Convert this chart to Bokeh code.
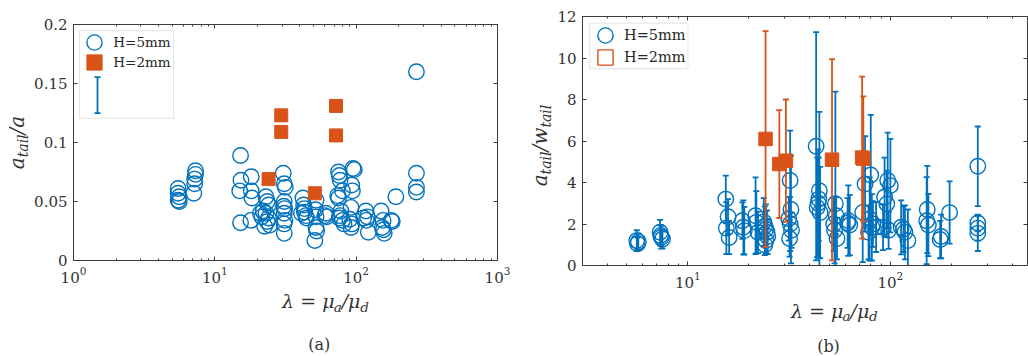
from math import pi

import numpy as np
from bokeh.embed import file_html
from bokeh.layouts import column, row
from bokeh.models import (BoxAnnotation, ColumnDataSource, CustomJSTickFormatter,
                          FixedTicker, Label, Legend, LegendItem, LinearAxis, LogAxis,
                          LogTickFormatter, Range1d, TeeHead, Whisker)
from bokeh.plotting import figure
from bokeh.resources import INLINE

BLUE = "#0072BD"
ORANGE = "#D95319"
AXIS_COLOR = "#3c3c3c"
TEXT_COLOR = "#333333"
FONT = "DejaVu Serif"

# ---------------- panel (a): a_tail / a versus viscosity ratio ----------------
lam_a_5mm = [
    5.5, 5.5, 5.6, 5.5, 5.6,
    7.3, 7.3, 7.2, 7.2, 7.1,
    15.2, 15.3, 15.0, 15.2,
    18.1, 18.1, 18.3, 18.0,
    21.0, 21.5, 22.0, 23.0, 23.5, 24.0, 23.0, 24.0, 23.5, 24.5, 22.5,
    30.5, 31.0, 31.5, 31.0, 30.8, 31.2, 31.0, 31.3, 30.9, 31.0,
    42.0, 42.5, 43.0, 43.0, 44.0, 44.5, 41.0,
    52.0, 51.5, 52.0, 52.0, 52.5, 51.0,
    61.0, 62.0, 60.0,
    75.0, 76.0, 77.0, 74.0, 75.0, 80.0, 78.0, 77.0, 80.0, 76.0, 82.0,
    95.0, 97.0, 93.0, 94.0, 92.0, 90.0, 93.0, 92.0,
    117.0, 120.0, 118.0, 122.0, 113.0,
    150.0, 155.0, 153.0, 156.0, 158.0,
    177.0, 180.0, 191.0,
    267.0, 267.0, 267.0, 267.0,
]
ratio_a_5mm = [
    0.061, 0.057, 0.054, 0.051, 0.050,
    0.076, 0.073, 0.069, 0.065, 0.057,
    0.089, 0.068, 0.059, 0.032,
    0.071, 0.059, 0.053, 0.034,
    0.040, 0.037, 0.042, 0.054, 0.050, 0.047, 0.040, 0.036, 0.033, 0.030, 0.029,
    0.074, 0.065, 0.062, 0.050, 0.046, 0.044, 0.040, 0.034, 0.031, 0.023,
    0.053, 0.047, 0.044, 0.041, 0.038, 0.036, 0.040,
    0.051, 0.043, 0.037, 0.028, 0.025, 0.017,
    0.040, 0.037, 0.038,
    0.075, 0.072, 0.068, 0.055, 0.053, 0.059, 0.042, 0.038, 0.034, 0.036, 0.031,
    0.078, 0.077, 0.064, 0.059, 0.045, 0.035, 0.031, 0.028,
    0.042, 0.037, 0.034, 0.024, 0.036,
    0.042, 0.034, 0.028, 0.026, 0.023,
    0.034, 0.033, 0.054,
    0.160, 0.074, 0.062, 0.058,
]
lam_a_2mm = [24.0, 29.5, 29.5, 51.0, 72.0, 72.0]
ratio_a_2mm = [0.069, 0.123, 0.109, 0.057, 0.131, 0.106]

# ---------------- panel (b): tail aspect ratio with spread ----------------
lam_b_5mm = [
    5.6, 5.65, 5.7,
    7.3, 7.4, 7.5, 7.35,
    15.4, 15.8, 15.5, 16.0,
    18.6, 18.8, 19.0,
    21.6, 21.8, 22.2,
    23.7, 24.0, 24.3, 24.6, 24.8, 24.3, 24.0,
    32.0, 32.3, 31.5, 32.0, 32.5, 31.8,
    43.0, 44.6, 44.0, 43.5, 45.0, 44.3,
    53.5, 54.0, 53.0, 54.5, 52.5,
    62.0, 63.0, 61.5,
    80.0, 75.0, 73.0, 79.0, 81.0, 78.0, 82.0, 85.0,
    97.0, 100.0, 93.6, 96.0, 92.0, 98.0,
    113.0, 118.0, 122.0, 116.0,
    152.0, 151.0, 154.0,
    178.0, 176.0,
    196.0,
    270.0, 270.0, 270.0, 270.0,
]
aspect_b_5mm = [
    1.2, 1.05, 1.15,
    1.6, 1.36, 1.28, 1.45,
    3.2, 2.35, 1.8, 1.35,
    2.16, 1.84, 1.68,
    2.4, 2.08, 1.6,
    2.1, 1.9, 1.75, 1.6, 1.4, 1.2, 1.0,
    4.1, 2.7, 2.25, 2.0, 1.7, 1.3,
    5.75, 3.6, 3.0, 2.8, 2.55, 3.2,
    2.98, 2.4, 1.7, 1.3, 2.0,
    2.16, 1.95, 2.05,
    4.36, 3.93, 2.56, 2.24, 1.84, 1.6, 2.0, 1.85,
    4.1, 3.85, 3.3, 2.97, 1.84, 1.7,
    1.84, 1.6, 1.2, 1.75,
    2.7, 2.16, 1.95,
    1.4, 1.25,
    2.55,
    4.78, 2.05, 1.8, 1.55,
]
aspect_err_b_5mm = [
    0.5, 0.3, 0.4,
    0.6, 0.55, 0.45, 0.5,
    1.13, 0.85, 1.25, 0.8,
    0.88, 1.3, 1.15,
    1.85, 1.5, 1.0,
    1.15, 0.95, 1.2, 1.05, 0.85, 0.6, 0.5,
    2.4, 2.6, 1.05, 1.3, 0.85, 0.87,
    5.5, 3.8, 2.6, 2.4, 2.2, 2.0,
    5.4, 0.9, 1.6, 1.0, 1.3,
    1.7, 1.45, 1.2,
    2.9, 2.3, 2.4, 2.0, 1.6, 1.3, 1.1, 1.2,
    2.3, 2.25, 1.9, 1.6, 1.1, 0.9,
    1.3, 1.3, 1.5, 1.1,
    2.1, 2.1, 1.5,
    1.05, 0.9,
    1.5,
    1.92, 0.4, 0.6, 0.85,
]
lam_b_2mm = [24.2, 28.3, 30.5, 51.5, 72.5, 73.5]
aspect_b_2mm = [6.1, 4.89, 5.05, 5.1, 5.2, 5.15]
aspect_err_b_2mm = [5.2, 2.6, 2.95, 4.85, 3.9, 3.0]

# ---------------- axes ticks ----------------
x_major_a = [1, 10, 100, 1000]
x_minor_a = [2, 3, 4, 5, 6, 7, 8, 9, 20, 30, 40, 50, 60, 70, 80, 90,
             200, 300, 400, 500, 600, 700, 800, 900]
y_ticks_a = [0, 0.05, 0.1, 0.15, 0.2]
y_tick_labels_a = ["0", "0.05", "0.1", "0.15", "0.2"]
x_major_b = [10, 100]
x_minor_b = [4, 5, 6, 7, 8, 9, 20, 30, 40, 50, 60, 70, 80, 90, 200, 300, 400]
y_ticks_b = [0, 2, 4, 6, 8, 10, 12]

legend_labels = ["H=5mm", "H=2mm"]
captions = ["(a)", "(b)"]

# approximate advance widths (em) used to lay out the math-style axis titles
EM = {"a": 0.596, "t": 0.402, "i": 0.320, "l": 0.320, "w": 0.856, "d": 0.640,
      "λ": 0.600, "μ": 0.640, "/": 0.337, "=": 0.838, " ": 0.318}
MID = 0.35  # distance of the text's middle line above its baseline, in em


def run_width(text, size):
    return sum(EM.get(c, 0.6) for c in text) * size


def style_axis(ax, ticker, formatter=None, show_labels=True):
    ax.ticker = ticker
    if formatter is not None:
        ax.formatter = formatter
    ax.axis_line_color = AXIS_COLOR
    ax.axis_line_width = 1
    ax.major_tick_in = 4
    ax.major_tick_out = 0
    ax.minor_tick_in = 2
    ax.minor_tick_out = 0
    ax.major_tick_line_color = AXIS_COLOR
    ax.minor_tick_line_color = AXIS_COLOR
    ax.major_label_text_font = FONT
    ax.major_label_text_font_size = "15px"
    ax.major_label_text_color = TEXT_COLOR
    ax.major_label_standoff = 6
    if not show_labels:
        ax.formatter = CustomJSTickFormatter(code="return ''")
        ax.major_label_text_font_size = "0px"
        ax.major_label_standoff = 0
        ax.axis_line_color = None


def make_panel(x_range, y_range, size, borders, x_major, x_minor, y_ticks, y_overrides=None):
    width, height = size
    left, right, top, bottom = borders
    p = figure(width=width, height=height, x_axis_type="log",
               x_range=x_range, y_range=y_range,
               output_backend="svg", toolbar_location=None,
               min_border_left=left, min_border_right=right,
               min_border_top=top, min_border_bottom=bottom)
    p.grid.visible = False
    p.outline_line_color = AXIS_COLOR
    p.outline_line_width = 1
    p.background_fill_color = "white"
    p.border_fill_color = "white"

    style_axis(p.xaxis[0], FixedTicker(ticks=x_major, minor_ticks=x_minor), LogTickFormatter())
    style_axis(p.yaxis[0], FixedTicker(ticks=y_ticks, minor_ticks=[]))
    if y_overrides:
        p.yaxis[0].major_label_overrides = y_overrides

    top_ax = LogAxis()
    style_axis(top_ax, FixedTicker(ticks=x_major, minor_ticks=x_minor), show_labels=False)
    p.add_layout(top_ax, "above")
    right_ax = LinearAxis()
    style_axis(right_ax, FixedTicker(ticks=y_ticks, minor_ticks=[]), show_labels=False)
    p.add_layout(right_ax, "right")
    return p


def text_strip(width, height):
    """A bare canvas strip that only carries text (titles and captions)."""
    s = figure(width=width, height=height, x_range=Range1d(0, 1), y_range=Range1d(0, 1),
               output_backend="svg", toolbar_location=None,
               x_axis_location=None, y_axis_location=None,
               min_border=0, min_border_left=0, min_border_right=0,
               min_border_top=0, min_border_bottom=0)
    s.grid.visible = False
    s.outline_line_color = None
    s.background_fill_color = "white"
    s.border_fill_color = "white"
    return s


def add_text(s, text, x, y, size, italic=False, angle=0.0, align="left"):
    """Place text (middle-anchored) at strip pixel (x, y) from the strip's top-left."""
    s.add_layout(Label(x=x, y=s.height - y, x_units="screen", y_units="screen",
                       text=text, text_font=FONT,
                       text_font_style="italic" if italic else "normal",
                       text_font_size=f"{size}px", text_color=TEXT_COLOR,
                       text_align=align, text_baseline="middle", angle=angle))


def math_title(s, runs, x, y, vertical=False):
    """runs: (text, size, baseline drop); (x, y) is the baseline point at the title's centre."""
    total = sum(run_width(t, sz) for t, sz, _ in runs)
    pos = -total / 2.0
    for text, size, drop in runs:
        if vertical:
            add_text(s, text, x + drop - MID * size, y - pos, size, italic=True, angle=pi / 2)
        else:
            add_text(s, text, x + pos, y + drop - MID * size, size, italic=True)
        pos += run_width(text, size)


def legend_entry(p, renderer, label, loc, font_size):
    p.add_layout(Legend(items=[LegendItem(label=label, renderers=[renderer])],
                        location=loc, glyph_width=38, glyph_height=38,
                        padding=0, margin=0, label_standoff=0,
                        border_line_color=None, background_fill_alpha=0,
                        label_text_font=FONT, label_text_font_size=font_size,
                        label_text_color="#262626"))


def legend_box(p, left, right, top, bottom):
    p.add_layout(BoxAnnotation(left=left, right=right, top=top, bottom=bottom,
                               left_units="screen", right_units="screen",
                               top_units="screen", bottom_units="screen",
                               fill_color="white", fill_alpha=1.0,
                               line_color="#a6a6a6", line_width=1))


X_MAIN, X_SUB = 19, 13.5
Y_MAIN, Y_SUB = 20, 14
DROP = 4
x_title = [("λ = μ", X_MAIN, 0), ("a", X_SUB, DROP), ("/μ", X_MAIN, 0), ("d", X_SUB, DROP)]

# ================= panel (a) =================
y_over = {v: s for v, s in zip(y_ticks_a, y_tick_labels_a)}
pa = make_panel(Range1d(1, 1000), Range1d(0, 0.2), (483, 288), (41, 17, 24, 28),
                x_major_a, x_minor_a, y_ticks_a, y_over)

src_a5 = ColumnDataSource(dict(x=lam_a_5mm, y=ratio_a_5mm))
src_a2 = ColumnDataSource(dict(x=lam_a_2mm, y=ratio_a_2mm))
circ_a = pa.scatter("x", "y", source=src_a5, marker="circle", size=15.5,
                    fill_color=None, line_color=BLUE, line_width=1.4)
sq_a = pa.scatter("x", "y", source=src_a2, marker="square", size=13,
                  fill_color=ORANGE, line_color=ORANGE, line_width=1)

legend_box(pa, 6, 100, 229.7, 142.3)
legend_entry(pa, circ_a, legend_labels[0], (2.3, 199.3), "13.5px")
legend_entry(pa, sq_a, legend_labels[1], (2.3, 179.0), "13.5px")
# error-bar key sample inside the legend box
key_src = ColumnDataSource(dict(base=[24.0], lower=[147.3], upper=[183.3]))
pa.add_layout(Whisker(source=key_src, base="base", lower="lower", upper="upper",
                      base_units="screen", lower_units="screen", upper_units="screen",
                      dimension="height", level="overlay",
                      line_color=BLUE, line_width=1.8,
                      upper_head=TeeHead(size=6, line_color=BLUE, line_width=1.8),
                      lower_head=TeeHead(size=6, line_color=BLUE, line_width=1.8)))

ylab_a = text_strip(31, 356)
math_title(ylab_a, [("a", Y_MAIN, 0), ("tail", Y_SUB, DROP), ("/a", Y_MAIN, 0)],
           23.5, 142, vertical=True)
xlab_a = text_strip(483, 68)
math_title(xlab_a, x_title, 252, 307.3 - 288)
add_text(xlab_a, captions[0], 245.7, 344 - 288, 16, align="center")

# ================= panel (b) =================
pb = make_panel(Range1d(3.022, 475), Range1d(0, 12), (474, 293), (28, 1, 16, 28),
                x_major_b, x_minor_b, y_ticks_b)


def bar_source(x, y, err):
    y = np.asarray(y, dtype=float)
    e = np.asarray(err, dtype=float)
    return ColumnDataSource(dict(x=x, y=y, lo=y - e, hi=y + e))


def error_series(p, src, color, marker, size, filled):
    p.segment(x0="x", y0="lo", x1="x", y1="hi", source=src, line_color=color, line_width=1.8)
    for end in ("lo", "hi"):
        p.scatter("x", end, source=src, marker="dash", size=6,
                  line_color=color, line_width=1.8)
    return p.scatter("x", "y", source=src, marker=marker, size=size,
                     fill_color=color if filled else None, line_color=color,
                     line_width=1 if filled else 1.4)


circ_b = error_series(pb, bar_source(lam_b_5mm, aspect_b_5mm, aspect_err_b_5mm),
                      BLUE, "circle", 15.5, False)
src_b2 = bar_source(lam_b_2mm, aspect_b_2mm, aspect_err_b_2mm)
error_series(pb, src_b2, ORANGE, "square", 13.5, True)
# open-square key for the H=2mm series (shown in the legend only)
key_sq_b = pb.scatter("x", "y", source=src_b2, marker="square", size=12, fill_color=None,
                      line_color=ORANGE, line_width=1.4, visible=False)

legend_box(pb, 7.3, 105.5, 242.3, 196.7)
legend_entry(pb, circ_b, legend_labels[0], (4, 211), "14.5px")
legend_entry(pb, key_sq_b, legend_labels[1], (4, 189), "14.5px")

ylab_b = text_strip(40, 356)
math_title(ylab_b, [("a", Y_MAIN, 0), ("tail", Y_SUB, DROP), ("/w", Y_MAIN, 0),
                    ("tail", Y_SUB, DROP)], 32, 145, vertical=True)
xlab_b = text_strip(474, 63)
math_title(xlab_b, x_title, 251.8, 316.7 - 293)
add_text(xlab_b, captions[1], 246, 346 - 293, 16, align="center")

layout = row(ylab_a, column(pa, xlab_a), ylab_b, column(pb, xlab_b))
open("out.html", "w").write(file_html(layout, INLINE))
